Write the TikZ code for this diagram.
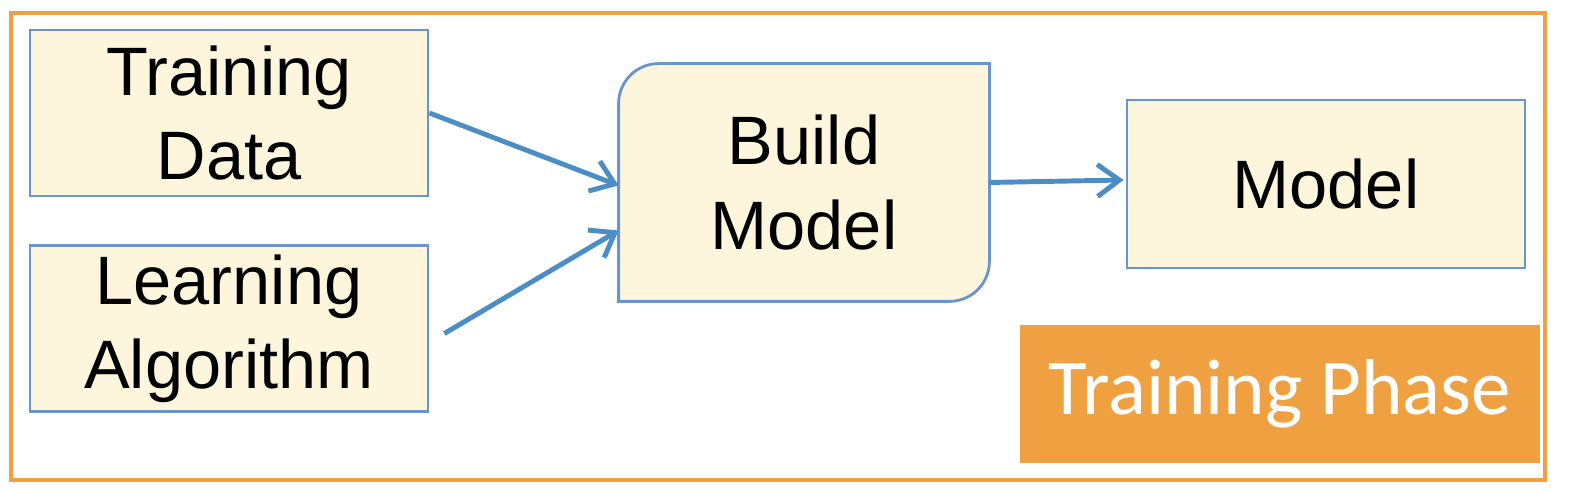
\documentclass[tikz,border=0pt]{standalone}
\usepackage{fontspec}
\setmainfont{Liberation Sans}
\newfontfamily\phasefont{Carlito}
\usetikzlibrary{arrows.meta}

\definecolor{boxfill}{HTML}{FDF5DC}
\definecolor{boxline}{HTML}{6A94CC}
\definecolor{arrowblue}{HTML}{4C8DC6}
\definecolor{phaseorange}{HTML}{EFA040}

\begin{document}
\begin{tikzpicture}
		\tikzset{
			stagebox/.style={
					draw=boxline, fill=boxfill, line width=0.8pt,
					align=center, inner sep=0pt,
					font=\fontsize{19.5}{24}\selectfont,
				},
			flow/.style={
					draw=arrowblue, line width=1.4pt,
					-{Straight Barb[length=2.2mm,width=3.2mm,line width=1.4pt]},
				},
		}
		\useasboundingbox (0,0) rectangle (15.69,4.91);
		% outer frame
		\draw[phaseorange, line width=1.2pt] (0.11,0.11) rectangle (15.45,4.78);
		%
		\node[stagebox, minimum width=3.98cm, minimum height=1.66cm] (td) at (2.29,3.78) {Training\\Data};
		\node[stagebox, minimum width=3.98cm, minimum height=1.66cm] (la) at (2.29,1.625) {Learning\\Algorithm};
		\node[stagebox, draw=none, fill=none, minimum width=3.68cm, minimum height=2.35cm] (bm) at (8.04,3.085) {};
		\filldraw[draw=boxline, fill=boxfill, line width=0.8pt]
			(bm.south west) -- ([yshift=-0.4cm]bm.north west) arc (180:90:0.4cm)
			-- (bm.north east) -- ([yshift=0.4cm]bm.south east) arc (0:-90:0.4cm) -- cycle;
		\node[stagebox, draw=none, fill=none] at (bm) {Build\\Model};
		\node[stagebox, minimum width=3.98cm, minimum height=1.68cm] (md) at (13.26,3.07) {Model};
		\node[fill=phaseorange, text=white, minimum width=5.2cm, minimum height=1.38cm,
			inner sep=0pt, font=\phasefont\fontsize{22.5}{26}\selectfont] (tp) at (12.80,0.97) {Training Phase};
		%
		\draw[flow] (td.east) -- ([yshift=-0.03cm]bm.west);
		\draw[flow] ([xshift=0.15cm,yshift=-0.05cm]la.east) -- ([yshift=-0.48cm]bm.west);
		\draw[flow] (bm.east) -- ([xshift=-0.02cm,yshift=0.04cm]md.west);
	\end{tikzpicture}
\end{document}
